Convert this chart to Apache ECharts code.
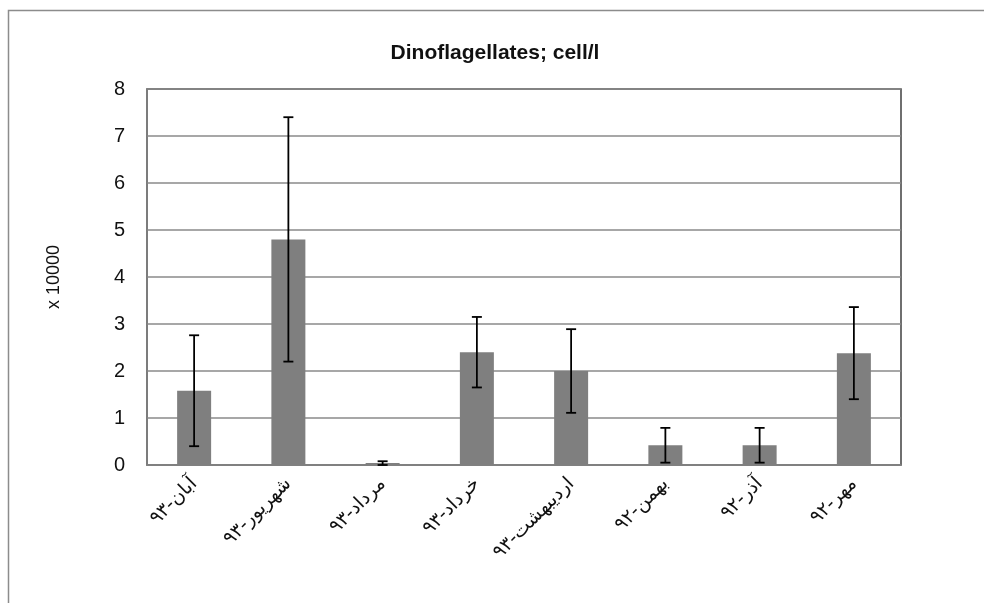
<!DOCTYPE html>
<html>
<head>
<meta charset="utf-8">
<script src="https://cdn.jsdelivr.net/npm/echarts@6/dist/echarts.min.js"></script>
<style>html,body{margin:0;padding:0;background:#fff}#c{width:984px;height:603px}</style>
</head>
<body>
<div id="c"></div>
<script>
const categories = ['آبان-۹۳','شهریور-۹۳','مرداد-۹۳','خرداد-۹۳','اردیبهشت-۹۳','بهمن-۹۲','آذر-۹۲','مهر-۹۲'];
const means = [1.58, 4.8, 0.04, 2.4, 2.0, 0.42, 0.42, 2.38];
const errors = [1.18, 2.6, 0.04, 0.75, 0.89, 0.37, 0.37, 0.98];
const yTicks = [0,1,2,3,4,5,6,7,8];

const chart = echarts.init(document.getElementById('c'));
const errData = categories.map((c, i) => [i, means[i] - errors[i], means[i] + errors[i]]);

chart.setOption({
  animation: false,
  backgroundColor: '#fff',
  graphic: [{
    type: 'rect', shape: {x: 8.5, y: 10.5, width: 1000, height: 700},
    style: {fill: 'none', stroke: '#8c8c8c', lineWidth: 1.5}, silent: true, z: -1
  }],
  title: {
    text: 'Dinoflagellates; cell/l', left: 490, top: 38, textAlign: 'center',
    textStyle: {fontFamily: 'Liberation Sans Narrow, Liberation Sans, sans-serif', fontSize: 21, fontWeight: 'bold', color: '#111'}
  },
  grid: {left: 147, right: 83, top: 89, bottom: 138, show: true, borderColor: '#404040', borderWidth: 1.5},
  xAxis: {
    type: 'category', data: categories,
    axisLine: {lineStyle: {color: '#808080', width: 1.5}},
    axisTick: {show: false},
    axisLabel: {rotate: 45, interval: 0, margin: 16, fontFamily: 'DejaVu Sans', fontSize: 19, color: '#111'}
  },
  yAxis: {
    type: 'value', min: 0, max: 8, interval: 1,
    name: 'x 10000', nameLocation: 'middle', nameGap: 84, nameRotate: 90,
    nameTextStyle: {fontFamily: 'Liberation Sans, sans-serif', fontSize: 18, color: '#111'},
    axisLine: {show: true, lineStyle: {color: '#808080', width: 1.5}},
    axisTick: {show: false},
    axisLabel: {margin: 22, fontFamily: 'Liberation Sans, sans-serif', fontSize: 20, color: '#111',
      formatter: v => yTicks.includes(v) ? String(v) : ''},
    splitLine: {lineStyle: {color: '#8a8a8a', width: 1.5}}
  },
  series: [{
    type: 'bar', data: means, barWidth: 34,
    itemStyle: {color: '#7f7f7f'}, z: 2
  }, {
    type: 'custom', data: errData, z: 3,
    renderItem: function (params, api) {
      const x = api.value(0);
      const lo = api.coord([x, api.value(1)]);
      const hi = api.coord([x, api.value(2)]);
      const hw = 5;
      const st = {stroke: '#000', lineWidth: 1.8, fill: 'none'};
      return {type: 'group', children: [
        {type: 'line', shape: {x1: lo[0], y1: lo[1], x2: hi[0], y2: hi[1]}, style: st},
        {type: 'line', shape: {x1: hi[0]-hw, y1: hi[1], x2: hi[0]+hw, y2: hi[1]}, style: st},
        {type: 'line', shape: {x1: lo[0]-hw, y1: lo[1], x2: lo[0]+hw, y2: lo[1]}, style: st}
      ]};
    }
  }]
});
</script>
</body>
</html>
